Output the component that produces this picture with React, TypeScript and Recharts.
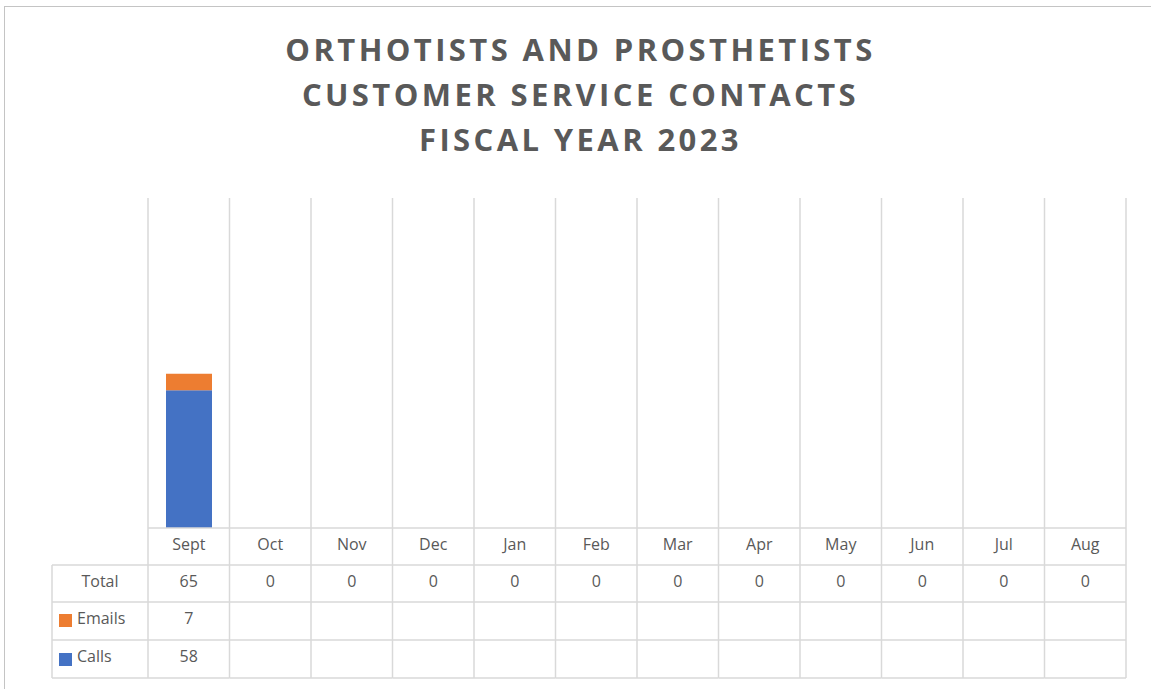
import { BarChart, Bar, XAxis, YAxis } from "recharts";

const months = ["Sept", "Oct", "Nov", "Dec", "Jan", "Feb", "Mar", "Apr", "May", "Jun", "Jul", "Aug"];
const calls: (number | null)[] = [58, null, null, null, null, null, null, null, null, null, null, null];
const emails: (number | null)[] = [7, null, null, null, null, null, null, null, null, null, null, null];
const totals = [65, 0, 0, 0, 0, 0, 0, 0, 0, 0, 0, 0];

const data = months.map((m, i) => ({
  month: m,
  calls: calls[i],
  emails: emails[i],
  total: totals[i],
}));

const BLUE = "#4472C4";
const ORANGE = "#ED7D31";
const GRID = "#D9D9D9";
const TEXT = "#595959";
const FONT = "'Open Sans', 'Noto Sans', sans-serif";

// layout of the plot / data table
const PLOT_LEFT = 148;
const PLOT_RIGHT = 1126;
const PLOT_TOP = 198;
const PLOT_BOTTOM = 528;
const ROWS = [528, 565, 602, 640, 678];
const TABLE_LEFT = 52;
const COL_W = (PLOT_RIGHT - PLOT_LEFT) / months.length;
const TEXT_DY = -3;

function TableColumn(props: any) {
  const { x, payload, index } = props;
  const i = payload.index ?? index;
  const row = data[i];
  const left = x - COL_W / 2;
  const right = x + COL_W / 2;
  const cell = (v: number | string | null | undefined, r: number) =>
    v == null ? null : (
      <text
        x={x}
        y={(ROWS[r] + ROWS[r + 1]) / 2 + TEXT_DY}
        textAnchor="middle"
        dominantBaseline="central"
        fill={TEXT}
        fontSize={16}
        fontFamily={FONT}
      >
        {v}
      </text>
    );
  return (
    <g>
      {i === 0 && (
        <g>
          <line x1={left} x2={left} y1={PLOT_TOP} y2={ROWS[4]} stroke={GRID} strokeWidth={1.5} />
          <line x1={TABLE_LEFT} x2={TABLE_LEFT} y1={ROWS[1]} y2={ROWS[4]} stroke={GRID} strokeWidth={1.5} />
          {[1, 2, 3, 4].map((r) => (
            <line key={r} x1={TABLE_LEFT} x2={left} y1={ROWS[r]} y2={ROWS[r]} stroke={GRID} strokeWidth={1.5} />
          ))}
          <text x={100} y={(ROWS[1] + ROWS[2]) / 2 + TEXT_DY} textAnchor="middle" dominantBaseline="central" fill={TEXT} fontSize={16} fontFamily={FONT}>
            Total
          </text>
          <rect x={59} y={614} width={13} height={13} fill={ORANGE} />
          <text x={77} y={(ROWS[2] + ROWS[3]) / 2 + TEXT_DY} dominantBaseline="central" fill={TEXT} fontSize={16} fontFamily={FONT}>
            Emails
          </text>
          <rect x={59} y={653} width={13} height={13} fill={BLUE} />
          <text x={77} y={(ROWS[3] + ROWS[4]) / 2 + TEXT_DY} dominantBaseline="central" fill={TEXT} fontSize={16} fontFamily={FONT}>
            Calls
          </text>
        </g>
      )}
      <line x1={right} x2={right} y1={PLOT_TOP} y2={ROWS[4]} stroke={GRID} strokeWidth={1.5} />
      {[0, 1, 2, 3, 4].map((r) => (
        <line key={r} x1={left} x2={right} y1={ROWS[r]} y2={ROWS[r]} stroke={GRID} strokeWidth={1.5} />
      ))}
      {cell(row.month, 0)}
      {cell(row.total, 1)}
      {cell(row.emails, 2)}
      {cell(row.calls, 3)}
    </g>
  );
}

export default function App() {
  return (
    <div style={{ position: "absolute", left: 0, top: 0, width: 1151, height: 689, background: "#fff" }}>
      <div
        style={{
          position: "absolute",
          left: 4,
          top: 6,
          width: 1160,
          height: 700,
          borderLeft: "1.5px solid #C4C4C4",
          borderTop: "1.5px solid #C4C4C4",
        }}
      />
      <div
        style={{
          position: "absolute",
          left: 0,
          top: 27,
          width: 1161,
          textAlign: "center",
          color: TEXT,
          fontFamily: FONT,
          fontWeight: 700,
          fontSize: 31,
          letterSpacing: 3.4,
          lineHeight: "45px",
        }}
      >
        <div>ORTHOTISTS AND PROSTHETISTS</div>
        <div>CUSTOMER SERVICE CONTACTS</div>
        <div>FISCAL YEAR 2023</div>
      </div>
      <div style={{ position: "absolute", left: 0, top: 0 }}>
        <BarChart
          width={1151}
          height={689}
          data={data}
          margin={{ top: PLOT_TOP, right: 1151 - PLOT_RIGHT, left: PLOT_LEFT, bottom: 0 }}
          barSize={46}
        >
          <XAxis
            dataKey="month"
            axisLine={false}
            tickLine={false}
            interval={0}
            tick={<TableColumn />}
            height={689 - PLOT_BOTTOM}
          />
          <YAxis hide domain={[0, 139]} allowDataOverflow />
          <Bar dataKey="calls" stackId="a" fill={BLUE} isAnimationActive={false} />
          <Bar dataKey="emails" stackId="a" fill={ORANGE} isAnimationActive={false} />
        </BarChart>
      </div>
    </div>
  );
}
